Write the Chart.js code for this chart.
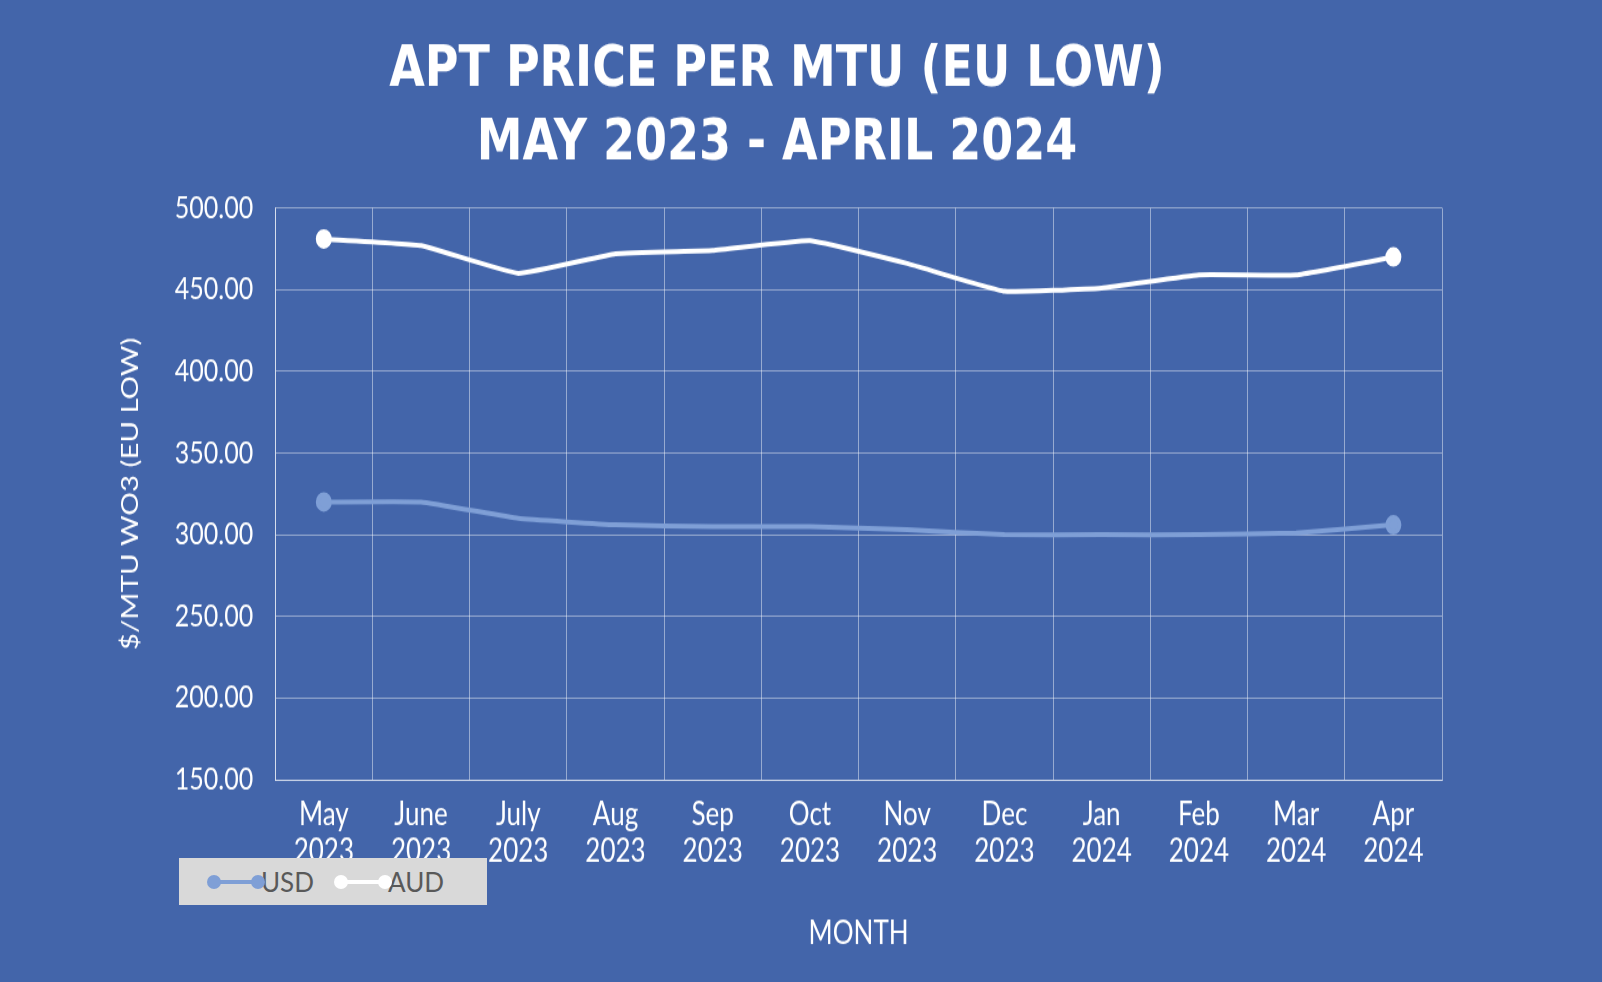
<!DOCTYPE html>
<html lang="en">
<head>
<meta charset="UTF-8">
<title>APT price</title>
<style>
  body { margin: 0; background: #4365aa; }
  #wrap { position: relative; width: 1602px; height: 982px; }
  #grafico { width: 1602px !important; height: 982px !important; }
  #legenda {
    position: absolute; left: 179px; top: 858px; width: 308px; height: 47px;
    background: #d9d9d9; display: flex; align-items: center; padding-left: 34px;
    box-sizing: border-box; font: 26px Lato, sans-serif; color: #595959;
  }
  .item { display: flex; align-items: center; margin-right: 26px; }
  .mark { position: relative; width: 46px; height: 4px; margin-right: 2px; }
  .mark i { position: absolute; top: -5px; width: 14px; height: 14px; border-radius: 50%; }
</style>
</head>
<body>
<div id="wrap">
  <canvas id="grafico"></canvas>
  <div id="legenda"></div>
</div>
<script src="https://cdn.jsdelivr.net/npm/chart.js"></script>
<script>
  const meses = [['May','2023'],['June','2023'],['July','2023'],['Aug','2023'],['Sep','2023'],['Oct','2023'],
                 ['Nov','2023'],['Dec','2023'],['Jan','2024'],['Feb','2024'],['Mar','2024'],['Apr','2024']]
  const usd = [320, 320, 310, 306, 305, 305, 303, 300, 300, 300, 301, 306]
  const aud = [481, 477, 460, 472, 474, 480, 466, 449, 451, 459, 459, 470]
  const corUsd = '#7f9fd6'
  const corAud = '#ffffff'

  // ponto so no primeiro e no ultimo
  const pontos = meses.map((m, i) => (i === 0 || i === meses.length - 1) ? 6 : 0)

  const ctx = document.getElementById('grafico')
  const grafico = new Chart(ctx, {
    type: 'line',
    data: {
      labels: meses,
      datasets: [
        { label: 'USD', data: usd, borderColor: corUsd, backgroundColor: corUsd, borderWidth: 4, pointRadius: pontos, tension: 0.1 },
        { label: 'AUD', data: aud, borderColor: corAud, backgroundColor: corAud, borderWidth: 4, pointRadius: pontos, tension: 0.1 }
      ]
    },
    options: {
      responsive: false,
      animation: false,
      layout: { padding: { left: 112, right: 160, top: 18, bottom: 20 } },
      plugins: {
        legend: { display: false },
        title: {
          display: true,
          text: ['APT PRICE PER MTU (EU LOW)', 'MAY 2023 - APRIL 2024'],
          color: '#ffffff',
          font: { family: 'DejaVu Sans', size: 46, weight: 'bold', lineHeight: 1.3 },
          padding: { top: 10, bottom: 22 }
        }
      },
      scales: {
        x: {
          offset: true,
          grid: { offset: true, color: 'rgba(255,255,255,0.45)', drawTicks: false },
          border: { color: 'rgba(255,255,255,0.6)' },
          ticks: { color: '#ffffff', font: { family: 'Lato', size: 26, lineHeight: 1.15 }, padding: 14, maxRotation: 0 },
          title: { display: true, text: 'MONTH', color: '#ffffff', font: { family: 'Lato', size: 26 }, padding: { top: 22 } }
        },
        y: {
          min: 150, max: 500,
          ticks: { stepSize: 50, color: '#ffffff', font: { family: 'Lato', size: 25 }, padding: 22,
                   callback: v => v.toFixed(2) },
          grid: { color: 'rgba(255,255,255,0.45)', drawTicks: false },
          border: { color: 'rgba(255,255,255,0.6)' },
          title: { display: true, text: '$/MTU WO3 (EU LOW)', color: '#ffffff', font: { family: 'Lato', size: 24 }, padding: { bottom: 8 } }
        }
      }
    }
  })

  // legenda em html
  const leg = document.getElementById('legenda')
  grafico.data.datasets.forEach(ds => {
    const c = ds.borderColor
    leg.insertAdjacentHTML('beforeend',
      `<div class="item"><div class="mark" style="background:${c}"><i style="left:-6px;background:${c}"></i><i style="right:-6px;background:${c}"></i></div><span>${ds.label}</span></div>`)
  })
</script>
</body>
</html>
